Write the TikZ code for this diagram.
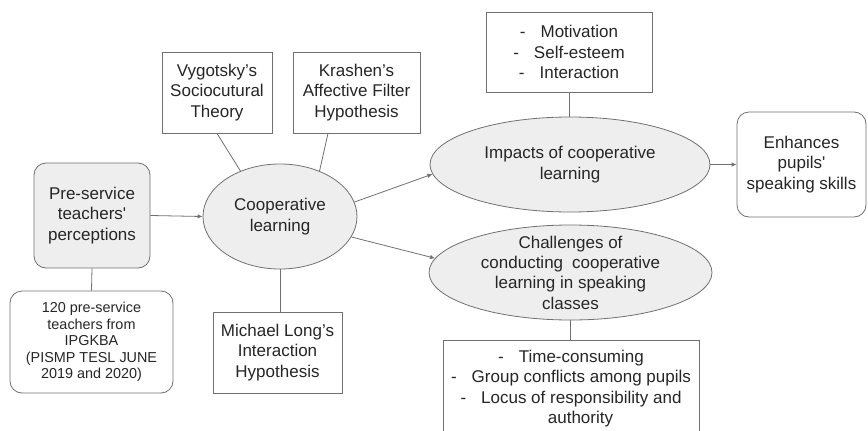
\documentclass[tikz,border=0pt]{standalone}
\usepackage{fontspec}
\setmainfont{Liberation Sans}
\usetikzlibrary{arrows.meta,shapes.geometric}
\definecolor{fillgray}{HTML}{EEEEEE}
\definecolor{linegray}{HTML}{707070}
\definecolor{txt}{HTML}{262626}
\begin{document}
\begin{tikzpicture}[x=1pt,y=-1pt,
  every node/.style={font=\fontsize{17}{20.3}\selectfont, text=txt, align=center, inner sep=0pt},
  box/.style={draw=linegray, line width=0.8pt, fill=white},
  rbox/.style={box, rounded corners=12pt},
  oval/.style={ellipse, draw=linegray, line width=0.8pt, fill=fillgray, inner ysep=-8pt},
  link/.style={draw=linegray, line width=0.8pt},
  arr/.style={link, -{Latex[length=5pt,width=4.5pt]}}]
\useasboundingbox (0,0) rectangle (868,431);
\clip (0,0) rectangle (868,431);

\node[rbox, fill=fillgray, minimum width=116pt, minimum height=105pt] (pre) at (92,215.5)
  {Pre-service\\teachers\textquotesingle\\perceptions};
\node[rbox, minimum width=163pt, minimum height=102pt, font=\fontsize{14.4}{16.6}\selectfont] (sample) at (91.5,342)
  {120 pre-service\\teachers from\\IPGKBA\\(PISMP TESL JUNE\\2019 and 2020)};
\node[oval, minimum width=154pt, minimum height=105pt] (coop) at (280,216.5)
  {Cooperative\\learning};
\node[box, minimum width=110pt, minimum height=81pt] (vyg) at (217,92.5)
  {Vygotsky’s\\Sociocutural\\Theory};
\node[box, minimum width=127pt, minimum height=81pt] (kra) at (356.5,92.5)
  {Krashen’s\\Affective Filter\\Hypothesis};
\node[box, minimum width=129pt, minimum height=81pt] (long) at (277.5,352.5)
  {Michael Long’s\\Interaction\\Hypothesis};
\node[box, minimum width=166pt, minimum height=80pt] (mot) at (569,52)
  {-\hspace{15pt}Motivation\\-\hspace{15pt}Self-esteem\\-\hspace{15pt}Interaction};
\node[oval, minimum width=280pt, minimum height=95pt] (imp) at (570,164.5)
  {Impacts of cooperative\\learning};
\node[rbox, minimum width=129pt, minimum height=105pt] (enh) at (801.5,164.5)
  {Enhances\\pupils\textquotesingle\\speaking skills};
\node[oval, minimum width=283pt, minimum height=95pt] (chal) at (570.5,272.5)
  {Challenges of\\conducting\hspace{9pt}cooperative\\learning in speaking\\classes};
\node[box, minimum width=256pt, minimum height=97pt] (cons) at (571,388.5)
  {-\hspace{15pt}Time-consuming\\-\hspace{15pt}Group conflicts among pupils\\-\hspace{15pt}Locus of responsibility and\\\hspace*{19pt}authority};

\draw[arr] (pre.east) -- (coop.west);
\draw[link] (pre.south) -- (sample.north);
\draw[link] (vyg.south) -- (coop.131);
\draw[link] ([xshift=-28.5pt]kra.south) -- (coop.49);
\draw[link] (coop.south) -- (coop.south |- long.north);
\draw[arr] (coop.11) -- (imp.184);
\draw[arr] (coop.344) -- (chal.174.6);
\draw[link] (mot.south) -- (mot.south |- imp.north);
\draw[arr] (imp.east) -- (enh.west);
\draw[link] (chal.south) -- (chal.south |- cons.north);
\end{tikzpicture}
\end{document}
